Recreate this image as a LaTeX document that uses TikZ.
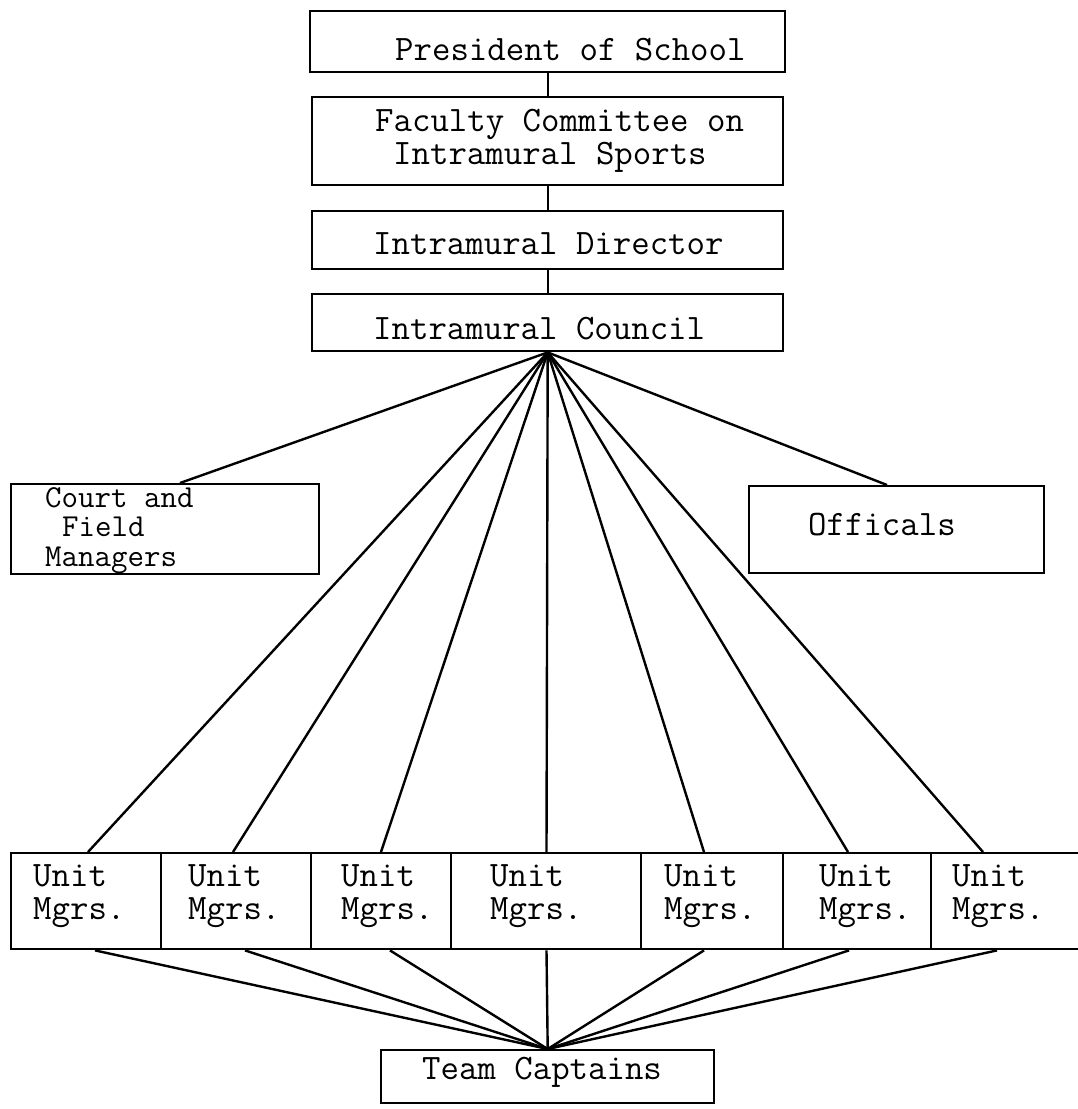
\documentclass[tikz,border=0pt]{standalone}
\newcommand\twfont{\fontsize{35.8}{36}\selectfont\ttfamily}
\newcommand\twtight{\fontsize{32}{29.6}\selectfont\ttfamily}
\newcommand\twunit{\fontsize{35.8}{33}\selectfont\ttfamily}
\begin{document}
\begin{tikzpicture}[x=1pt,y=-1pt,
  box/.style={draw, line width=2.4pt, inner sep=0pt, anchor=north west},
  txt/.style={anchor=base west, inner sep=0pt, font=\twfont},
  conn/.style={line width=2.4pt},
]
\useasboundingbox (0,0) rectangle (1077,1109);
% top chain
\node[box, minimum width=475pt, minimum height=61pt] (pres) at (309,10) {};
\node[box, minimum width=471pt, minimum height=88pt] (fac) at (311,96) {};
\node[box, minimum width=471pt, minimum height=58pt] (dir) at (311,210) {};
\node[box, minimum width=471pt, minimum height=57pt] (coun) at (311,293) {};
% middle
\node[box, minimum width=308pt, minimum height=90pt] (court) at (10,483) {};
\node[box, minimum width=295pt, minimum height=87pt] (offi) at (748,485) {};
% units
\node[box, minimum width=150pt, minimum height=96pt] (u1) at (10,852) {};
\node[box, minimum width=150pt, minimum height=96pt] (u2) at (160,852) {};
\node[box, minimum width=140pt, minimum height=96pt] (u3) at (310,852) {};
\node[box, minimum width=190pt, minimum height=96pt] (u4) at (450,852) {};
\node[box, minimum width=142pt, minimum height=96pt] (u5) at (640,852) {};
\node[box, minimum width=148pt, minimum height=96pt] (u6) at (782,852) {};
\node[box, minimum width=152pt, minimum height=96pt] (u7) at (930,852) {};
% team captains
\node[box, minimum width=333pt, minimum height=53pt] (tc) at (380,1049) {};

% texts
\node[txt] (tpres) at (395,60) {President of School};
\node[txt] (tfac1) at (375,131) {Faculty Committee on};
\node[txt] (tfac2) at (393,164) {Intramural Sports};
\node[txt] (tdir) at (373,254) {Intramural Director};
\node[txt] (tcoun) at (373,339) {Intramural Council};
\node[txt, anchor=north west, align=left, font=\twtight] (tcourt) at (45,487)
  {Court and\\\hspace*{17pt}Field\\Managers};
\node[txt] (toffi) at (808,535) {Officals};
\foreach \n/\x in {1/33,2/188,3/341,4/490,5/664,6/819,7/952}{
  \node[txt, anchor=north west, align=left, font=\twunit] (tu\n) at (\x,864) {Unit\\Mgrs.};
}
\node[txt] (ttc) at (422,1079) {Team Captains};

% connectors
\draw[conn] (pres.south) -- (fac.north);
\draw[conn] (fac.south) -- (dir.north);
\draw[conn] (dir.south) -- (coun.north);
\draw[conn] (coun.south) -- ([xshift=170pt]court.north west);
\draw[conn] (coun.south) -- ([xshift=139pt]offi.north west);
\foreach \u/\s in {u1/78,u2/73,u3/71,u4/96.5,u5/64,u6/66,u7/53}{
  \draw[conn] (coun.south) -- ([xshift=\s pt]\u.north west);
}
\foreach \u/\s in {u1/85,u2/85,u3/80,u4/96.5,u5/64,u6/67,u7/67}{
  \draw[conn] ([xshift=\s pt]\u.south west) -- (tc.north);
}
\end{tikzpicture}
\end{document}
